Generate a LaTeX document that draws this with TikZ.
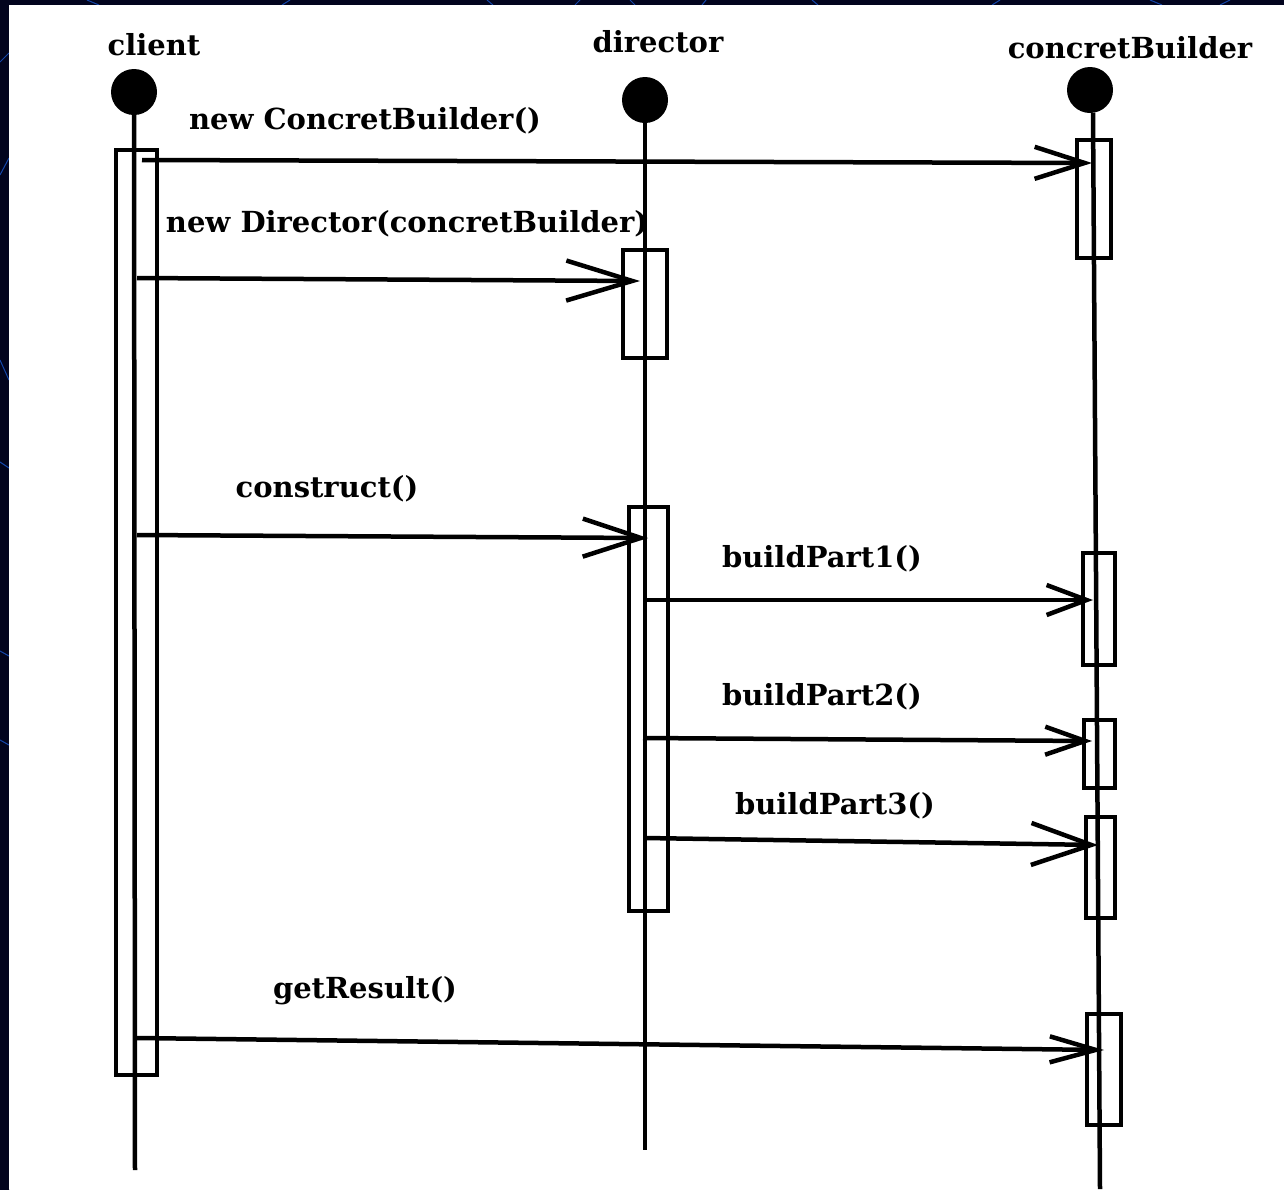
\documentclass[tikz,border=0pt]{standalone}
\usepackage{fontspec}
\setmainfont{DejaVu Serif}
\usetikzlibrary{arrows.meta, positioning}
\definecolor{slidebg}{RGB}{2,4,30}
\definecolor{slideblue}{RGB}{0,0,96}
\definecolor{slidearc}{RGB}{20,70,170}
\tikzset{
  head/.style={fill=black, circle, minimum size=46pt, inner sep=0pt},
  actbox/.style={draw, line width=4.5pt, inner sep=0pt},
  life/.style={line width=4.5pt},
  lbl/.style={font=\bfseries\fontsize{29}{34}\selectfont, inner sep=0pt, anchor=base},
  msg/.style 2 args={line width=4.5pt, -{Straight Barb[length=#1pt,width=#2pt]}}
}

\begin{document}
\begin{tikzpicture}[x=1pt, y=-1pt]
\useasboundingbox (0,0) rectangle (1284,1189);
% slide background
\fill[slidebg] (0,0) rectangle (1284,1189);
\shade[top color=slidebg, middle color=slideblue, bottom color=slidebg] (0,0) rectangle (9,1189);
\begin{scope}
\clip (0,0) rectangle (9,1189);
\draw[slidearc, line width=1pt] (0,62) -- (9,53);
\draw[slidearc, line width=1pt] (0,175) -- (9,158);
\draw[slidearc, line width=1pt] (0,360) -- (9,380);
\draw[slidearc, line width=1pt] (0,462) -- (9,468);
\draw[slidearc, line width=1pt] (0,651) -- (9,656);
\draw[slidearc, line width=1pt] (0,740) -- (9,745);
\end{scope}
\begin{scope}
\clip (0,0) rectangle (1284,5);
\foreach \x/\d in {87/12, 290/-8, 487/6, 580/-5, 630/5, 706/-4, 812/6, 1000/-8, 1150/12, 1230/-10}
  \draw[slidearc, line width=1pt] (\x,0) -- ++(\d,5);
\end{scope}
\fill[white] (9,5) rectangle (1284,1189);

% objects
\node[lbl] (client) at (154,55) {client};
\node[lbl] (director) at (658,52) {director};
\node[lbl] (builder) at (1130,58) {concretBuilder};
\node[head] (hc) at (134,92) {};
\node[head] (hd) at (645,100) {};
\node[head] (hb) at (1090,90) {};

% lifelines
\coordinate (ec) at (135,1170);
\coordinate (ed) at (645,1150);
\coordinate (eb) at (1100,1189);
\draw[life] (hc) -- (ec);
\draw[life] (hd) -- (ed);
\draw[life] (hb.south) ++(3,0) -- (eb);

% activations
\node[actbox, minimum width=41pt, minimum height=925pt] (ac) at (136.5,612.5) {};
\node[actbox, minimum width=44pt, minimum height=108pt] (ad1) at (645,304) {};
\node[actbox, minimum width=39pt, minimum height=404pt] (ad2) at (648.5,709) {};
\node[actbox, minimum width=34pt, minimum height=118pt] (ab1) at (1094,199) {};
\node[actbox, minimum width=32pt, minimum height=112pt] (ab2) at (1099,609) {};
\node[actbox, minimum width=31pt, minimum height=68pt] (ab3) at (1099.5,754) {};
\node[actbox, minimum width=29pt, minimum height=101pt] (ab4) at (1100.5,867.5) {};
\node[actbox, minimum width=34pt, minimum height=111pt] (ab5) at (1104,1069.5) {};

% messages
\coordinate (m1s) at (142,160);  \coordinate (m1e) at (1092,163);
\coordinate (m2s) at (137,278);  \coordinate (m2e) at (640,281);
\coordinate (m3s) at (137,535);  \coordinate (m3e) at (648,538);
\coordinate (m4s) at (645,600);  \coordinate (m4e) at (1093,600);
\coordinate (m5s) at (643,738);  \coordinate (m5e) at (1092,741);
\coordinate (m6s) at (645,838);  \coordinate (m6e) at (1098,845);
\coordinate (m7s) at (137,1038); \coordinate (m7e) at (1104,1050);
\draw[msg={50}{32}] (m1s) -- (m1e);
\draw[msg={66}{40}] (m2s) -- (m2e);
\draw[msg={58}{38}] (m3s) -- (m3e);
\draw[msg={40}{30}] (m4s) -- (m4e);
\draw[msg={40}{28}] (m5s) -- (m5e);
\draw[msg={60}{42}] (m6s) -- (m6e);
\draw[msg={46}{26}] (m7s) -- (m7e);

\node[lbl] (l1) at (365,129) {new ConcretBuilder()};
\node[lbl] (l2) at (407,232) {new Director(concretBuilder)};
\node[lbl] (l3) at (327,497) {construct()};
\node[lbl] (l4) at (822,567) {buildPart1()};
\node[lbl] (l5) at (822,705) {buildPart2()};
\node[lbl] (l6) at (835,814) {buildPart3()};
\node[lbl] (l7) at (365,998) {getResult()};
\end{tikzpicture}
\end{document}
